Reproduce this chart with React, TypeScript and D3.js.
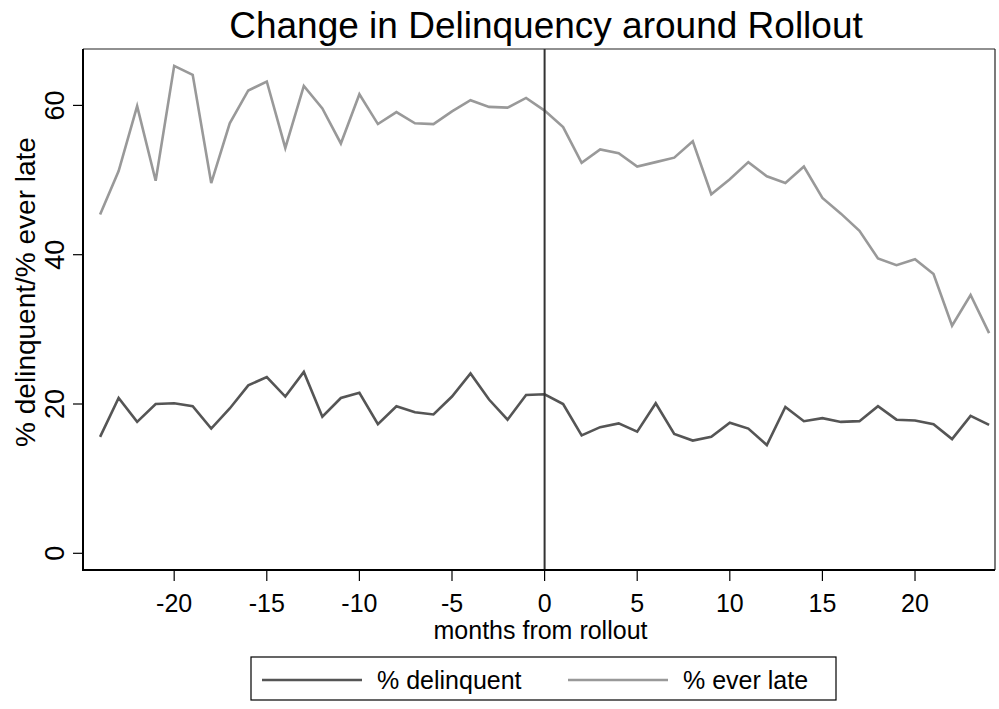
import React from "react";
import * as d3 from "d3";

const months: number[] = d3.range(-24, 25);
const delinquent: number[] = [
  15.6, 20.8, 17.6, 20.0, 20.1, 19.7, 16.7, 19.4, 22.5, 23.6, 21.0, 24.3,
  18.3, 20.8, 21.5, 17.3, 19.7, 18.9, 18.6, 21.0, 24.1, 20.6, 17.9, 21.2,
  21.3, 20.0, 15.8, 16.9, 17.4, 16.3, 20.1, 16.0, 15.1, 15.6, 17.5, 16.7,
  14.5, 19.6, 17.7, 18.1, 17.6, 17.7, 19.7, 17.9, 17.8, 17.3, 15.3, 18.4, 17.2,
];
const everLate: number[] = [
  45.4, 51.2, 59.9, 49.9, 65.3, 64.1, 49.6, 57.6, 62.0, 63.2, 54.3, 62.6,
  59.6, 54.9, 61.5, 57.5, 59.1, 57.6, 57.5, 59.2, 60.7, 59.8, 59.7, 61.0,
  59.3, 57.1, 52.3, 54.1, 53.6, 51.8, 52.4, 53.0, 55.2, 48.1, 50.1, 52.4,
  50.5, 49.6, 51.8, 47.6, 45.5, 43.2, 39.5, 38.6, 39.4, 37.4, 30.5, 34.6, 29.5,
];
const xTicks: number[] = [-20, -15, -10, -5, 0, 5, 10, 15, 20];
const yTicks: number[] = [0, 20, 40, 60];
const seriesNames: string[] = ["% delinquent", "% ever late"];
const seriesColors: string[] = ["#555555", "#999999"];

export default function App() {
  const W = 999, H = 709;
  const frameL = 83, frameR = 995, frameT = 49, frameB = 570;
  const x = d3.scaleLinear().domain([-24, 24]).range([100.1, 989.1]);
  const y = d3.scaleLinear().domain([0, 60]).range([553.3, 105.4]);
  const line = d3.line<number>().x((_, i) => x(months[i])).y((d) => y(d));
  const font = "Liberation Sans, Arial, sans-serif";
  const series = [delinquent, everLate];

  return (
    <svg width={W} height={H} style={{ position: "absolute", left: 0, top: 0, background: "#fff" }} fontFamily={font}>
      <rect x={0} y={0} width={W} height={H} fill="#fff" />
      <text x={546} y={38} textAnchor="middle" fontSize={37} fill="#000">
        Change in Delinquency around Rollout
      </text>
      {/* frame */}
      <line x1={frameL} x2={frameR} y1={frameT} y2={frameT} stroke="#222" strokeWidth={1.2} />
      <line x1={frameR} x2={frameR} y1={frameT} y2={frameB} stroke="#222" strokeWidth={1.2} />
      {/* series */}
      {series.map((s, i) => (
        <path key={i} d={line(s) || ""} fill="none" stroke={seriesColors[i]} strokeWidth={2.6} strokeLinejoin="miter" />
      ))}
      {/* vertical line at 0 */}
      <line x1={x(0)} x2={x(0)} y1={frameT} y2={frameB} stroke="#333" strokeWidth={2} />
      {/* axes */}
      <line x1={frameL} x2={frameL} y1={frameT} y2={frameB + 1} stroke="#000" strokeWidth={2} />
      <line x1={frameL - 1} x2={frameR} y1={frameB} y2={frameB} stroke="#000" strokeWidth={2} />
      {yTicks.map((t) => (
        <g key={t}>
          <line x1={frameL - 10} x2={frameL} y1={y(t)} y2={y(t)} stroke="#000" strokeWidth={1.2} />
          <text transform={`translate(${frameL - 19},${y(t)}) rotate(-90)`} textAnchor="middle" fontSize={27} fill="#000">
            {t}
          </text>
        </g>
      ))}
      {xTicks.map((t) => (
        <g key={t}>
          <line x1={x(t)} x2={x(t)} y1={frameB} y2={frameB + 11} stroke="#000" strokeWidth={1.2} />
          <text x={x(t)} y={612} textAnchor="middle" fontSize={25} fill="#000">
            {t}
          </text>
        </g>
      ))}
      <text x={540.5} y={639} textAnchor="middle" fontSize={25} fill="#000">
        months from rollout
      </text>
      <text transform={`translate(35,292) rotate(-90)`} textAnchor="middle" fontSize={28} fill="#000">
        % delinquent/% ever late
      </text>
      {/* legend */}
      <rect x={251} y={657} width={585} height={43} fill="#fff" stroke="#000" strokeWidth={1.2} />
      {seriesNames.map((n, i) => {
        const lx = i === 0 ? 262 : 568;
        return (
          <g key={n}>
            <line x1={lx} x2={lx + 100} y1={680} y2={680} stroke={seriesColors[i]} strokeWidth={2.6} />
            <text x={lx + 115} y={689} fontSize={25} fill="#000">{n}</text>
          </g>
        );
      })}
    </svg>
  );
}
